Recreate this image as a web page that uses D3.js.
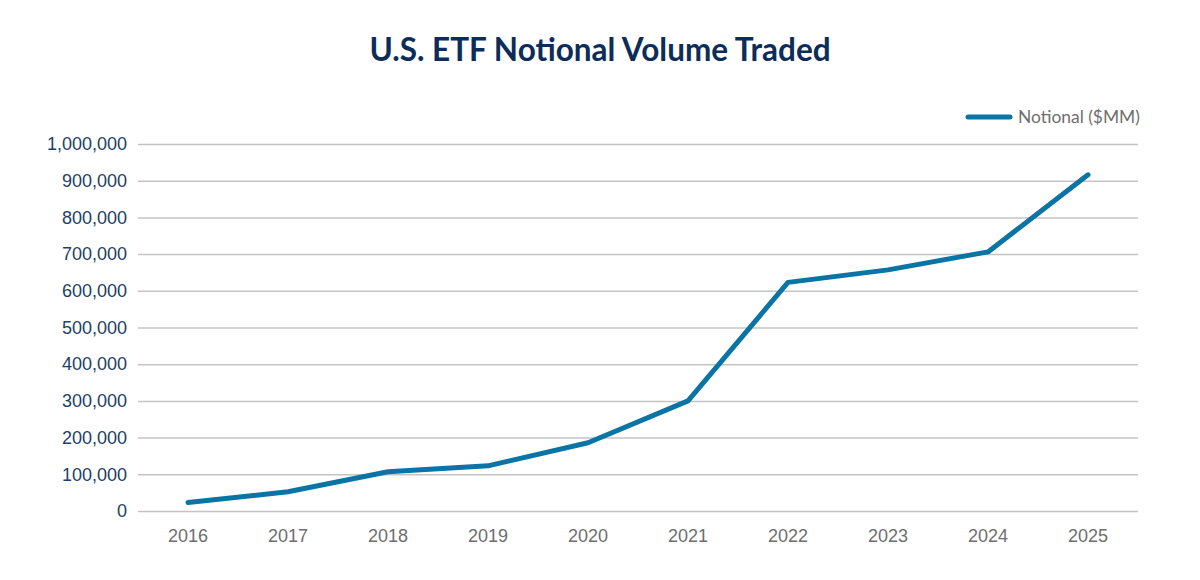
<!DOCTYPE html>
<html>
<head>
<meta charset="utf-8">
<script src="https://cdn.jsdelivr.net/npm/d3@7"></script>
<style>
  body { margin: 0; background: #fff; }
  svg { display: block; font-family: Lato, "Open Sans", sans-serif; }
</style>
</head>
<body>
<svg id="chart"></svg>
<script>
const years = ["2016", "2017", "2018", "2019", "2020", "2021", "2022", "2023", "2024", "2025"];
const notional = [23000, 52500, 107000, 123000, 186000, 300000, 623000, 657000, 706000, 916000];
const yTicks = [0, 100000, 200000, 300000, 400000, 500000, 600000, 700000, 800000, 900000, 1000000];
const seriesName = "Notional ($MM)";
const title = "U.S. ETF Notional Volume Traded";

const width = 1200;
const height = 580;
const marginLeft = 138;
const marginRight = 62;
const marginTop = 144;
const marginBottom = 69;

const svg = d3.select("#chart")
    .attr("width", width)
    .attr("height", height)
    .attr("viewBox", [0, 0, width, height]);

const x = d3.scaleBand()
    .domain(years)
    .range([marginLeft, width - marginRight]);

const y = d3.scaleLinear()
    .domain([0, 1000000])
    .range([height - marginBottom, marginTop]);

const format = d3.format(",d");

// title
svg.append("text")
    .attr("x", width / 2)
    .attr("y", 61)
    .attr("text-anchor", "middle")
    .attr("fill", "#0c2d5a")
    .style("font-size", "31.5px")
    .style("font-weight", "bold")
    .text(title);

// gridlines + y labels
const yAxis = svg.append("g")
    .attr("transform", `translate(${marginLeft},0)`)
    .call(d3.axisLeft(y)
        .tickValues(yTicks)
        .tickSize(-(width - marginLeft - marginRight))
        .tickPadding(11)
        .tickFormat(format));
yAxis.select(".domain").remove();
yAxis.selectAll(".tick line")
    .attr("stroke", "#c4c4c4")
    .attr("stroke-width", 1.5);
yAxis.selectAll(".tick text")
    .attr("fill", "#1d3f68")
    .style("font-size", "18px");

// x labels
const xAxis = svg.append("g")
    .attr("transform", `translate(0,${height - marginBottom})`)
    .call(d3.axisBottom(x).tickSize(0).tickPadding(18));
xAxis.select(".domain").remove();
xAxis.selectAll(".tick text")
    .attr("fill", "#6e6e6e")
    .style("font-size", "18px");

// line
const line = d3.line()
    .x((d, i) => x(years[i]) + x.bandwidth() / 2)
    .y(d => y(d));

svg.append("path")
    .datum(notional)
    .attr("fill", "none")
    .attr("stroke", "#0a75a5")
    .attr("stroke-width", 5)
    .attr("stroke-linecap", "round")
    .attr("stroke-linejoin", "round")
    .attr("d", line);

// legend
const legend = svg.append("g").attr("transform", "translate(968,117)");
legend.append("line")
    .attr("x1", 0).attr("x2", 42)
    .attr("stroke", "#0a75a5")
    .attr("stroke-width", 5)
    .attr("stroke-linecap", "round");
legend.append("text")
    .attr("x", 50)
    .attr("dy", "0.35em")
    .attr("fill", "#6e6e6e")
    .style("font-size", "17.4px")
    .text(seriesName);
</script>
</body>
</html>
